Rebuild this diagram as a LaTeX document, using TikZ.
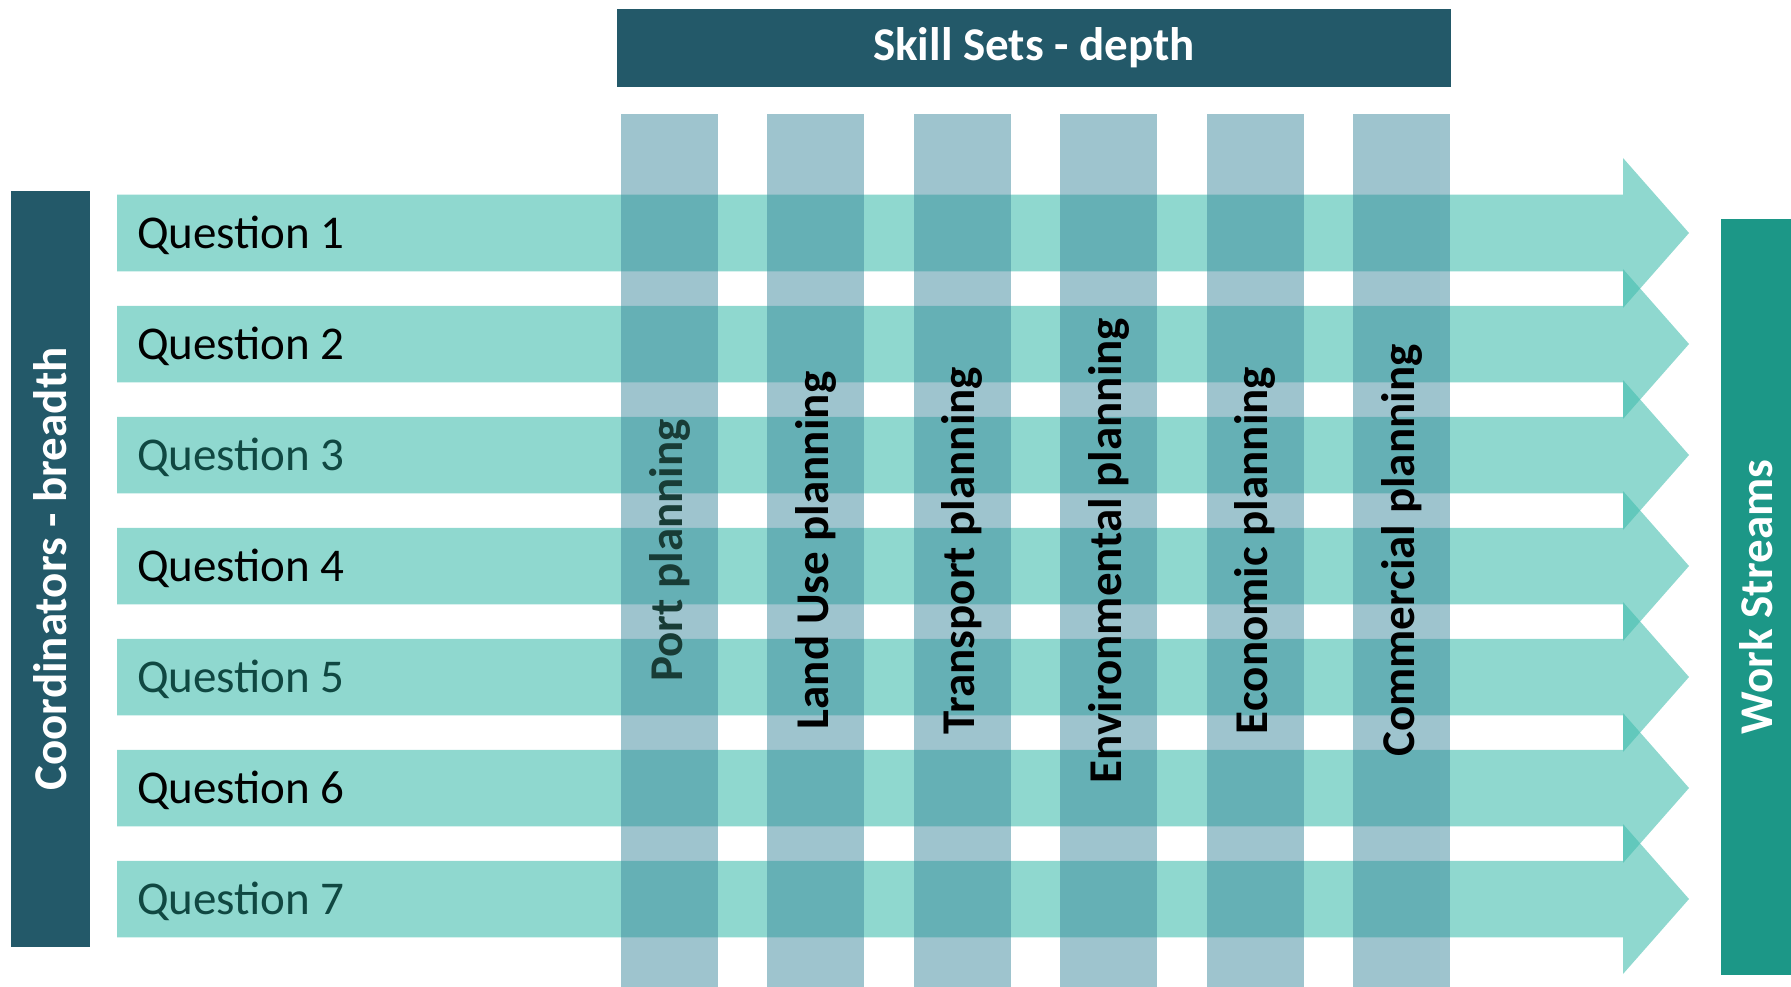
\documentclass[tikz,border=0pt]{standalone}
\usepackage{fontspec}
\setmainfont{Carlito}
\usepackage{xcolor}

\definecolor{bardark}{RGB}{35,89,105}
\definecolor{barteal}{RGB}{28,151,135}
\definecolor{arrowteal}{RGB}{68,190,175}
\definecolor{colblue}{RGB}{61,137,157}
\definecolor{qdark}{RGB}{16,72,66}
\definecolor{pdark}{RGB}{24,60,54}

\begin{document}
\begin{tikzpicture}[
  x=1pt, y=-1pt,
  big/.style={font=\fontsize{47}{56}\selectfont},
  bigbold/.style={font=\fontsize{47}{56}\selectfont\bfseries},
  bar/.style={rectangle, inner sep=0pt, text=white, bigbold},
  darkbar/.style={bar, fill=bardark},
  tealbar/.style={bar, fill=barteal},
  flow/.style={fill=arrowteal, fill opacity=0.6},
  skill/.style={rectangle, inner sep=0pt, fill=colblue, fill opacity=0.5,
                text opacity=1, rotate=90, minimum width=873pt,
                minimum height=97pt, bigbold},
  question/.style={anchor=west, inner sep=0pt, big, yshift=-2.5pt},
]
  \useasboundingbox (0,0) rectangle (1791,987);

  % work stream arrows
  \foreach \i/\c in {1/black, 2/black, 3/qdark, 4/black, 5/qdark, 6/black, 7/qdark} {
    \pgfmathsetmacro\y{233+111*(\i-1)}
    \fill[flow] (117,\y-38.25) -- (1623,\y-38.25) -- (1623,\y-75)
      -- (1689,\y) -- (1623,\y+75) -- (1623,\y+38.25)
      -- (117,\y+38.25) -- cycle;
    \node[question, text=\c] (q\i) at (137,\y) {Question \i};
  }

  % skill set columns
  \foreach \n/\name/\c/\t in {0/port/pdark/Port planning,
                              1/land/black/Land Use planning,
                              2/trans/black/Transport planning,
                              3/env/black/Environmental planning,
                              4/econ/black/Economic planning,
                              5/comm/black/Commercial planning}
    \node[skill, text=\c] (\name) at (669.5+146.4*\n,550.5) {\t};

  % headers
  \node[darkbar, minimum width=834pt, minimum height=78pt] (skills)
    at (1034,48) {\raisebox{-3pt}{Skill Sets - depth}};
  \node[darkbar, rotate=90, minimum width=756pt, minimum height=79pt] (coord)
    at (50.5,569) {Coordinators - breadth};
  \node[tealbar, rotate=90, minimum width=756pt, minimum height=70pt] (work)
    at (1756,597) {Work Streams};
\end{tikzpicture}
\end{document}
